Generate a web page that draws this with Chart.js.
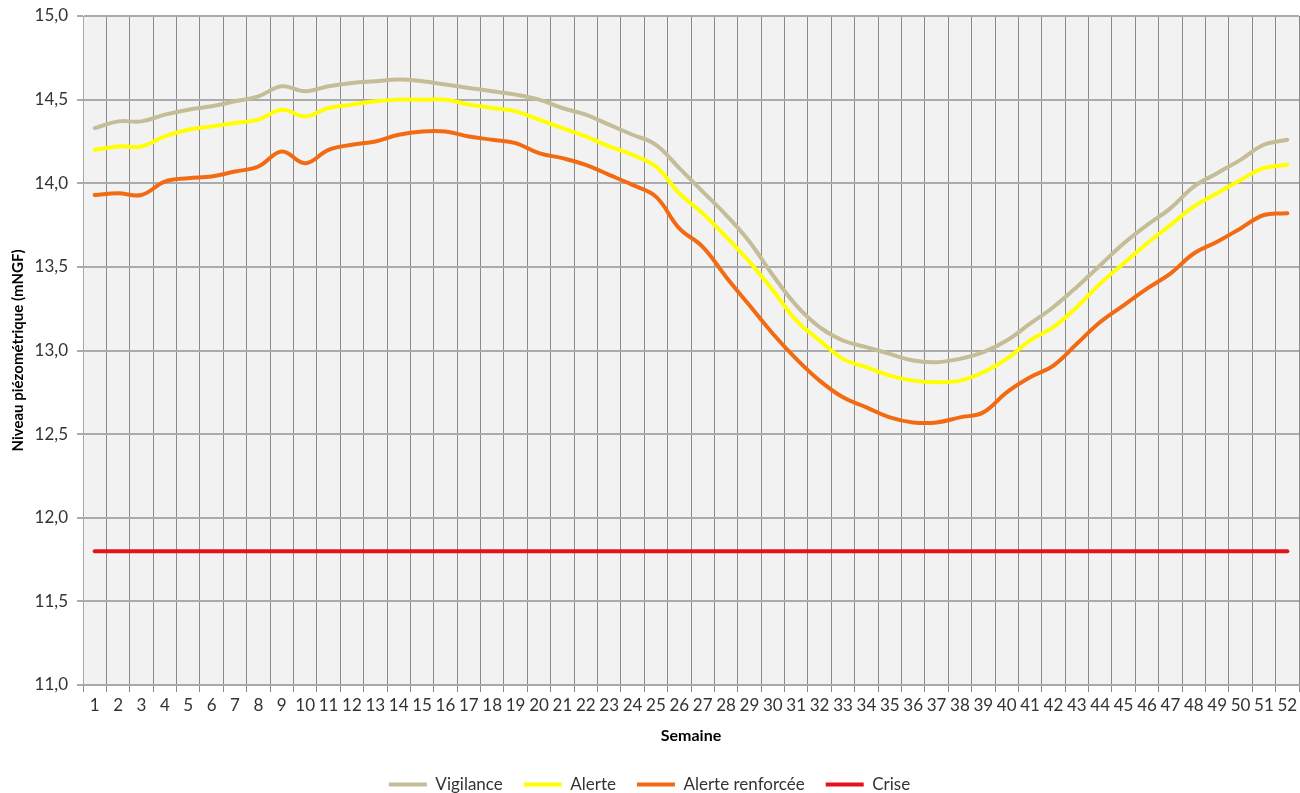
<!DOCTYPE html>
<html><head><meta charset="utf-8">
<script src="https://cdn.jsdelivr.net/npm/chart.js@4.4.1/dist/chart.umd.min.js"></script>
<style>html,body{margin:0;padding:0;background:#fff}#wrap{width:1300px;height:793px;position:relative}</style>
</head><body><div id="wrap"><canvas id="c" width="1300" height="793"></canvas></div>
<script>
const weeks = ['1','2','3','4','5','6','7','8','9','10','11','12','13','14','15','16','17','18','19','20','21','22','23','24','25','26','27','28','29','30','31','32','33','34','35','36','37','38','39','40','41','42','43','44','45','46','47','48','49','50','51','52'];
const vigilance = [14.33,14.37,14.37,14.41,14.44,14.46,14.49,14.52,14.58,14.55,14.58,14.60,14.61,14.62,14.61,14.59,14.57,14.55,14.53,14.50,14.45,14.41,14.35,14.29,14.23,14.09,13.95,13.81,13.65,13.45,13.27,13.14,13.06,13.02,12.98,12.94,12.93,12.95,12.99,13.06,13.16,13.26,13.38,13.51,13.64,13.75,13.85,13.98,14.06,14.14,14.23,14.26];
const alerte = [14.20,14.22,14.22,14.28,14.32,14.34,14.36,14.38,14.44,14.40,14.45,14.47,14.49,14.50,14.50,14.50,14.47,14.45,14.43,14.38,14.33,14.28,14.22,14.17,14.10,13.94,13.82,13.68,13.53,13.36,13.18,13.06,12.95,12.90,12.85,12.82,12.81,12.82,12.87,12.95,13.06,13.14,13.26,13.40,13.52,13.64,13.75,13.86,13.94,14.02,14.09,14.11];
const alerteRenforcee = [13.93,13.94,13.93,14.01,14.03,14.04,14.07,14.10,14.19,14.12,14.20,14.23,14.25,14.29,14.31,14.31,14.28,14.26,14.24,14.18,14.15,14.11,14.05,13.99,13.92,13.73,13.62,13.44,13.27,13.10,12.95,12.82,12.72,12.66,12.60,12.57,12.57,12.60,12.63,12.75,12.84,12.91,13.04,13.17,13.27,13.37,13.46,13.58,13.65,13.73,13.81,13.82];
const crise = [11.8,11.8,11.8,11.8,11.8,11.8,11.8,11.8,11.8,11.8,11.8,11.8,11.8,11.8,11.8,11.8,11.8,11.8,11.8,11.8,11.8,11.8,11.8,11.8,11.8,11.8,11.8,11.8,11.8,11.8,11.8,11.8,11.8,11.8,11.8,11.8,11.8,11.8,11.8,11.8,11.8,11.8,11.8,11.8,11.8,11.8,11.8,11.8,11.8,11.8,11.8,11.8];
const yTickValues = [11.0,11.5,12.0,12.5,13.0,13.5,14.0,14.5,15.0];
const seriesNames = ['Vigilance','Alerte','Alerte renforcée','Crise'];

const FONT = 'Lato, "Open Sans", sans-serif';
const plotBg = {
  id: 'plotBg',
  beforeDraw(chart) {
    const {ctx, chartArea: a} = chart;
    ctx.save();
    ctx.fillStyle = '#F2F2F2';
    ctx.fillRect(a.left, a.top, a.right - a.left, a.bottom - a.top);
    ctx.restore();
  }
};
function ds(label, data, color) {
  return {label, data, borderColor: color, backgroundColor: color, borderWidth: 4,
    pointRadius: 0, pointHoverRadius: 0, tension: 0.4, borderCapStyle: 'round', fill: false};
}
new Chart(document.getElementById('c'), {
  type: 'line',
  data: {
    labels: weeks,
    datasets: [
      ds(seriesNames[0], vigilance, '#C4BD97'),
      ds(seriesNames[1], alerte, '#FFFF00'),
      ds(seriesNames[2], alerteRenforcee, '#F26B12'),
      ds(seriesNames[3], crise, '#E3121B')
    ]
  },
  plugins: [plotBg],
  options: {
    responsive: false,
    animation: false,
    layout: {padding: {top: 16, left: 0, right: 1, bottom: -10}},
    plugins: {
      tooltip: {enabled: false},
      legend: {
        position: 'bottom',
        labels: {
          font: {family: FONT, size: 17},
          color: '#333',
          usePointStyle: true,
          pointStyle: 'line',
          pointStyleWidth: 38,
          padding: 21
        }
      }
    },
    scales: {
      x: {
        offset: true,
        grid: {offset: true, color: '#8A8A8A', lineWidth: 1, tickLength: 7, drawTicks: true},
        border: {color: '#A8A8A8', width: 2},
        ticks: {font: {family: FONT, size: 17}, color: '#333', padding: 3, maxRotation: 0, autoSkip: false},
        title: {display: true, text: 'Semaine', font: {family: FONT, size: 16, weight: 'bold'}, color: '#000', padding: {top: 0, bottom: 10}},
        afterFit(scale) { scale.height = 70; scale.paddingLeft = 0; scale.paddingRight = 0; }
      },
      y: {
        min: 11, max: 15,
        afterBuildTicks(scale) { scale.ticks = yTickValues.map(v => ({value: v})); },
        grid: {color: '#ABABAB', lineWidth: 2, tickLength: 6},
        border: {color: '#A8A8A8', width: 1},
        ticks: {font: {family: FONT, size: 17}, color: '#333', padding: 9,
          callback: v => Number(v).toFixed(1).replace('.', ',')},
        title: {display: true, text: 'Niveau piézométrique (mNGF)', font: {family: FONT, size: 15, weight: 'bold'}, color: '#000', padding: {top: 9, bottom: 0}},
        afterFit(scale) { scale.width = 83; scale.paddingTop = 0; scale.paddingBottom = 0; }
      }
    }
  }
});
</script></body></html>
